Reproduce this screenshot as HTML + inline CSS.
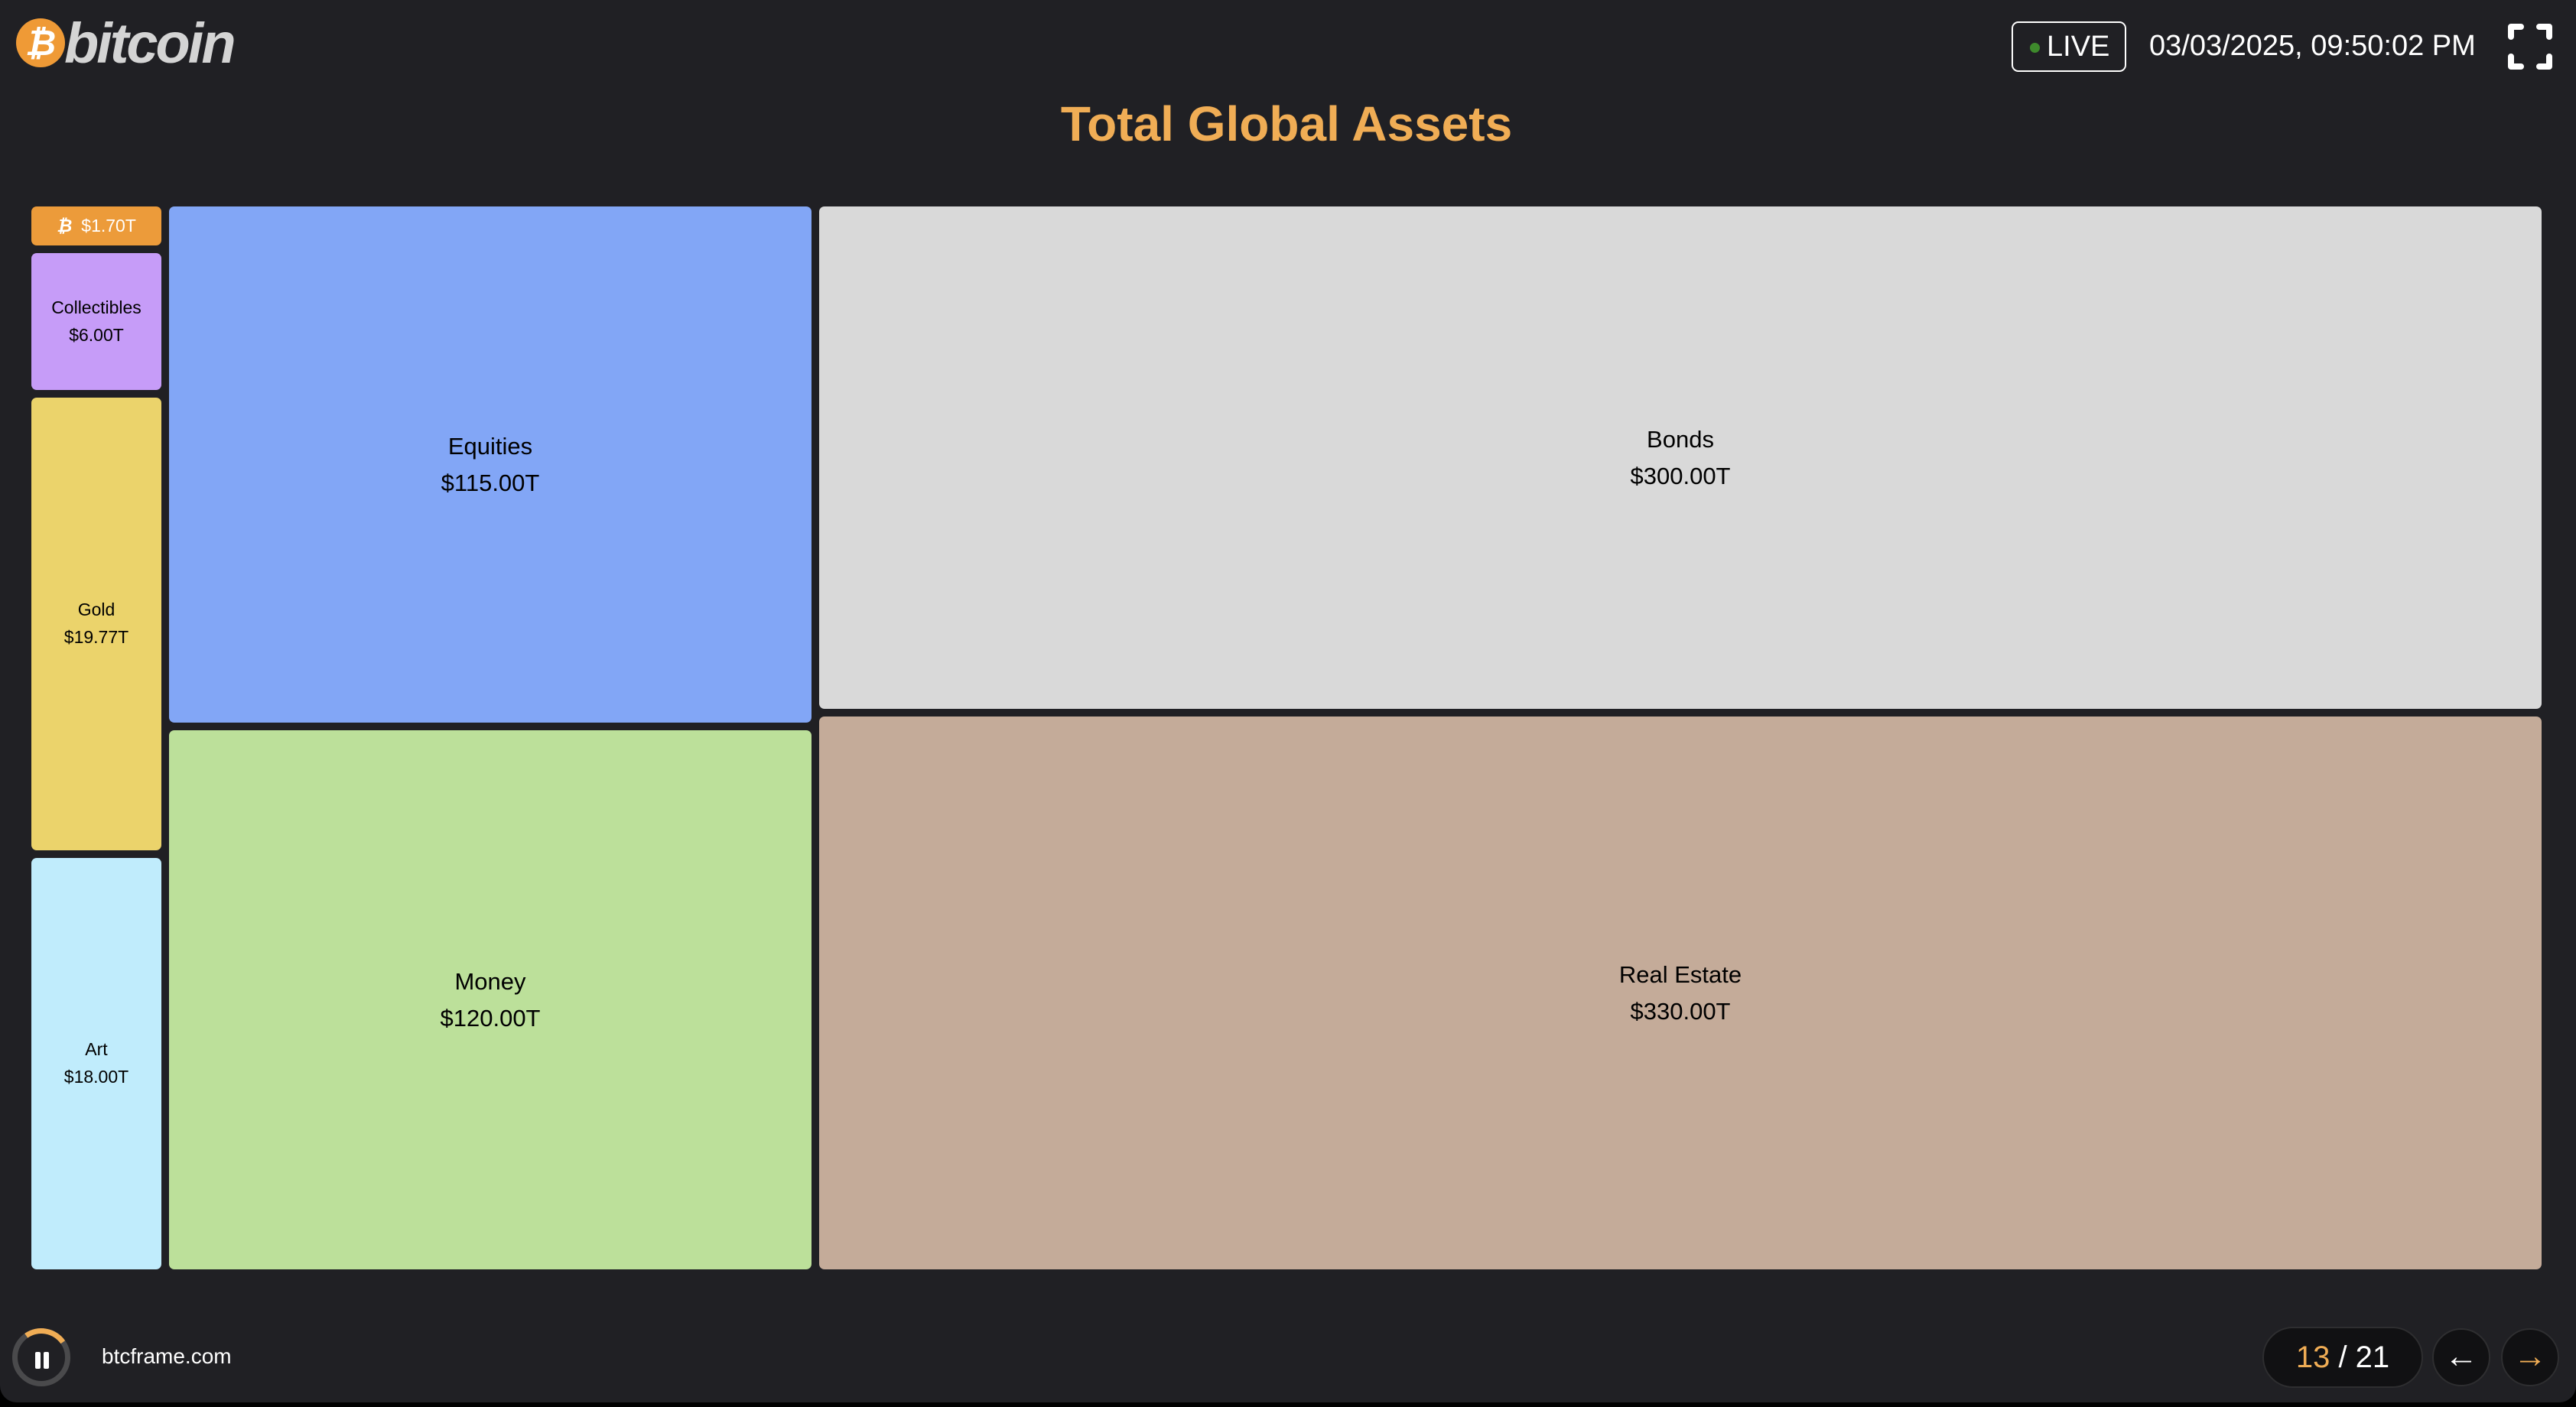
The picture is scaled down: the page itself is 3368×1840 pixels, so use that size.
<!DOCTYPE html>
<html><head><meta charset="utf-8">
<style>
html,body{margin:0;padding:0;background:#000;}
#app{position:relative;width:3368px;height:1834px;background:#202024;border-radius:0 0 22px 22px;overflow:hidden;font-family:"Liberation Sans",sans-serif;}
.abs{position:absolute;}
.cell{position:absolute;border-radius:7px;display:flex;flex-direction:column;align-items:center;justify-content:center;color:#000;text-align:center;}
</style></head>
<body>
<div id="app">
  <div class="abs" style="left:20px;top:22px;width:330px;height:70px;">
    <div class="abs" style="left:1px;top:2px;width:64px;height:64px;border-radius:50%;background:#ef9a36;color:#fff;font-weight:bold;font-size:46px;line-height:64px;text-align:center;font-style:italic;">₿</div>
    <div class="abs" style="left:64px;top:-8px;font-size:74px;font-weight:bold;font-style:italic;color:#d4d4d4;letter-spacing:-3px;">bitcoin</div>
  </div>
  <div class="abs" style="left:2630px;top:28px;width:150px;height:66px;border:2px solid #fff;border-radius:9px;box-sizing:border-box;color:#fff;font-size:38px;line-height:62px;">
    <span class="abs" style="left:22px;top:26px;width:13px;height:13px;border-radius:50%;background:#3e8a2c;"></span>
    <span class="abs" style="left:44px;top:0;">LIVE</span>
  </div>
  <div class="abs" style="left:2810px;top:28px;color:#fff;font-size:38px;line-height:64px;">03/03/2025, 09:50:02 PM</div>
  <svg class="abs" style="left:3278px;top:30px;" width="60" height="62" viewBox="0 0 60 62">
    <g fill="none" stroke="#fff" stroke-width="8" stroke-linecap="round" stroke-linejoin="round">
      <path d="M5 18V5h13M42 5h13v13M55 44v13H42M18 57H5V44"/>
    </g>
  </svg>
  <div class="abs" style="left:0;width:3364px;top:125px;text-align:center;color:#f0ad55;font-size:64px;font-weight:bold;">Total Global Assets</div>
  <div id="treemap" class="abs" style="left:0;top:0;width:3368px;height:1834px;"></div>

  <div class="abs" style="left:16px;top:1737px;width:76px;height:76px;border-radius:50%;border:7px solid #4a4a4c;box-sizing:border-box;">
    <div class="abs" style="left:-7px;top:-7px;width:76px;height:76px;border-radius:50%;border:7px solid transparent;border-top-color:#f0ad55;box-sizing:border-box;transform:rotate(10deg);"></div>
    <div class="abs" style="left:23px;top:24px;width:7px;height:22px;background:#fff;border-radius:2px;"></div>
    <div class="abs" style="left:34px;top:24px;width:7px;height:22px;background:#fff;border-radius:2px;"></div>
  </div>
  <div class="abs" style="left:133px;top:1758px;color:#fff;font-size:28px;">btcframe.com</div>
  <div class="abs" style="left:2958px;top:1735px;width:210px;height:80px;border-radius:40px;background:#111113;border:2px solid #2e2e30;box-sizing:border-box;color:#fff;font-size:40px;line-height:76px;text-align:center;"><span style="color:#f0ad55">13</span> / 21</div>
  <div class="abs" style="left:3180px;top:1737px;width:76px;height:76px;border-radius:50%;background:#111113;border:2px solid #2e2e30;box-sizing:border-box;color:#fff;font-size:44px;line-height:70px;text-align:center;font-weight:bold;">←</div>
  <div class="abs" style="left:3270px;top:1737px;width:76px;height:76px;border-radius:50%;background:#111113;border:2px solid #2e2e30;box-sizing:border-box;color:#f0ad55;font-size:44px;line-height:70px;text-align:center;font-weight:bold;">→</div>
</div>
<script>
const columnGroups = [0, 0, 0, 0, 1, 1, 2, 2];
const assetNames = ["Bitcoin", "Collectibles", "Gold", "Art", "Equities", "Money", "Bonds", "Real Estate"];
const assetValues = [1.70, 6.00, 19.77, 18.00, 115.00, 120.00, 300.00, 330.00];
const assetLabels = ["$1.70T", "$6.00T", "$19.77T", "$18.00T", "$115.00T", "$120.00T", "$300.00T", "$330.00T"];
const assetColors = ["#ec9b3a", "#c69cf8", "#ebd36b", "#c0ecfc", "#82a6f6", "#bce09a", "#d9d9d9", "#c4ab99"];

const X0 = 41, X1 = 3323, Y0 = 270, Y1 = 1660, GAP = 10, MINW = 170, MINH = 38;
const tm = document.getElementById('treemap');
const nCols = Math.max(...columnGroups) + 1;
const colSums = [];
for (let c = 0; c < nCols; c++) colSums.push(0);
assetValues.forEach((v, i) => colSums[columnGroups[i]] += v);
const total = colSums.reduce((a, b) => a + b, 0);
const usableW = (X1 - X0) - GAP * (nCols - 1);
// widths with a minimum for the tiny column
let widths = colSums.map(s => usableW * s / total);
let extra = 0, bigSum = 0;
widths = widths.map((w, c) => { if (w < MINW) { extra += MINW - w; return MINW; } bigSum += colSums[c]; return w; });
widths = widths.map((w, c) => w === MINW ? w : w - extra * colSums[c] / bigSum);
let cx = X0;
for (let c = 0; c < nCols; c++) {
  const w = widths[c];
  const idx = [];
  columnGroups.forEach((g, i) => { if (g === c) idx.push(i); });
  const usableH = (Y1 - Y0) - GAP * (idx.length - 1);
  let hs = idx.map(i => usableH * assetValues[i] / colSums[c]);
  let ex = 0, bs = 0;
  hs = hs.map((h, k) => { if (h < MINH) { ex += MINH - h; return MINH; } bs += assetValues[idx[k]]; return h; });
  hs = hs.map((h, k) => h === MINH ? h : h - ex * assetValues[idx[k]] / bs);
  let cy = Y0;
  idx.forEach((i, k) => {
    const h = hs[k];
    const el = document.createElement('div');
    el.className = 'cell';
    
    
    el.style.left = cx + 'px';
    el.style.top = cy + 'px';
    el.style.width = w + 'px';
    el.style.height = h + 'px';
    el.style.background = assetColors[i];
    const small = w < 300;
    const fs = small ? 23 : 31;
    if (assetNames[i] === "Bitcoin") {
      el.style.flexDirection = 'row';
      el.style.color = '#fff';
      el.style.fontSize = Math.min(23, h * 0.7) + 'px';
      el.innerHTML = '<span style="font-weight:bold;font-style:italic;margin-right:12px">₿</span><span>' + assetLabels[i] + '</span>';
    } else {
      el.style.fontSize = fs + 'px';
      el.style.lineHeight = (fs * 1.55) + 'px';
      el.innerHTML = '<div>' + assetNames[i] + '</div><div>' + assetLabels[i] + '</div>';
    }
    tm.appendChild(el);
    cy += h + GAP;
  });
  cx += w + GAP;
}
</script>
</body></html>
